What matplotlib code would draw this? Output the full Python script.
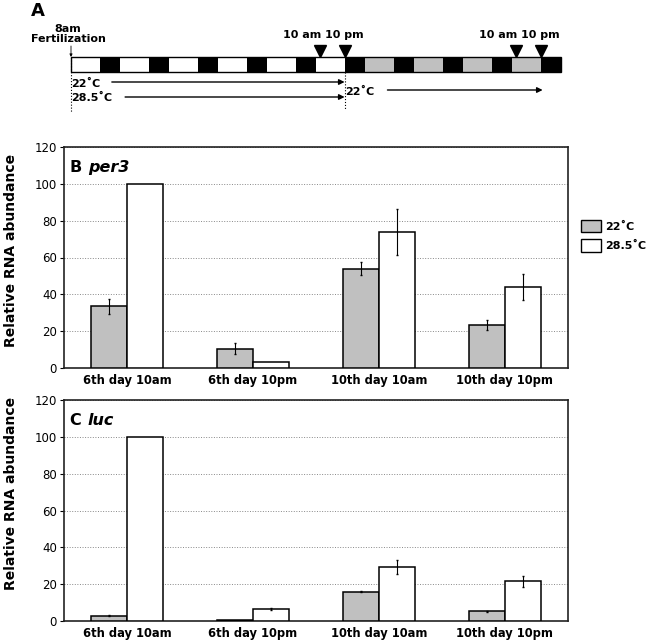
import numpy as np
import matplotlib.pyplot as plt
from matplotlib.patches import Rectangle, Patch

# bar chart data
categories = ['6th day 10am', '6th day 10pm', '10th day 10am', '10th day 10pm']
per3_22 = [33.5, 10.5, 54, 23.3]
per3_22_err = [4, 3, 3.5, 2.5]
per3_28 = [100, 3, 74, 44]
per3_28_err = [0, 0, 12.5, 7]
luc_22 = [2.9, 0.8, 16, 5.3]
luc_22_err = [0.4, 0, 0.4, 0.2]
luc_28 = [100, 6.7, 29.5, 21.5]
luc_28_err = [0, 0.6, 3.8, 3]
series_labels = ['22˚C', '28.5˚C']

# schematic: light/dark cycle starting at 8am fertilization
n_days = 10
light_hours, dark_hours = 14, 10
warm_days = 6                      # days raised at 28.5 before the shift
sample_hours = [122, 134, 218, 230]
sample_labels = ['10 am', '10 pm', '10 am', '10 pm']

gray = '#c0c0c0'
W, H = 646, 641

fig = plt.figure(figsize=(W / 100, H / 100), dpi=100)

# ---- panel A: schematic ----
axA = fig.add_axes([71 / W, 1 - 115 / H, 490 / W, 115 / H])
axA.set_xlim(0, n_days * 24)
axA.set_ylim(115, 0)
axA.axis('off')

for d in range(n_days):
    t0 = d * 24
    fc = 'white' if d < warm_days else gray
    axA.add_patch(Rectangle((t0, 57), light_hours, 15, facecolor=fc,
                            edgecolor='none', clip_on=False))
    axA.add_patch(Rectangle((t0 + light_hours, 57), dark_hours, 15,
                            facecolor='black', edgecolor='none', clip_on=False))
axA.add_patch(Rectangle((0, 57), n_days * 24, 15, facecolor='none',
                        edgecolor='black', lw=1, clip_on=False))

for h, lab in zip(sample_hours, sample_labels):
    axA.plot(h, 51, marker='v', color='black', markersize=9, clip_on=False)
    if 'am' in lab:
        axA.text(h + 0.5, 35, lab, ha='right', va='center',
                 fontsize=8, fontweight='bold')
    else:
        axA.text(h, 35, lab, ha='center', va='center',
                 fontsize=8, fontweight='bold')

axA.text(-1.5, 44, '8am\nFertilization', ha='center', va='bottom',
         fontsize=8, fontweight='bold', linespacing=0.95)
axA.annotate('', xy=(0, 57), xytext=(0, 46),
             arrowprops=dict(arrowstyle='-|>', lw=0.6, color='black',
                             mutation_scale=4, shrinkA=0, shrinkB=0))
axA.plot([0, 0], [57, 112], ls=':', lw=0.8, color='black', clip_on=False)
shift = warm_days * 24 - dark_hours
axA.plot([shift, shift], [72, 110], ls=':', lw=0.8, color='black',
         clip_on=False)

axA.text(0, 84, '22˚C', ha='left', va='center', fontsize=8,
         fontweight='bold')
axA.text(0, 97.5, '28.5˚C', ha='left', va='center', fontsize=8,
         fontweight='bold')
axA.text(shift + 0.5, 92, '22˚C', ha='left', va='center', fontsize=8,
         fontweight='bold')

arrow_kw = dict(arrowstyle='-|>', lw=1, color='black', mutation_scale=8,
                shrinkA=0, shrinkB=0)
axA.annotate('', xy=(shift, 82), xytext=(20, 82), arrowprops=arrow_kw)
axA.annotate('', xy=(shift, 97), xytext=(26.5, 97), arrowprops=arrow_kw)
axA.annotate('', xy=(231, 90), xytext=(155, 90), arrowprops=arrow_kw)

fig.text(31 / W, 1 - 11 / H, 'A', fontsize=13, fontweight='bold',
         ha='left', va='center')

# ---- panels B and C: bar charts ----
x = np.arange(len(categories))
w = 0.286


def draw_err(ax, xs, vals, errs):
    keep = [i for i, e in enumerate(errs) if e > 0]
    ax.errorbar(xs[keep], np.array(vals)[keep], yerr=np.array(errs)[keep],
                fmt='none', ecolor='black', elinewidth=0.8, capsize=1,
                zorder=4)


def bar_panel(ax, v22, e22, v28, e28, letter, gene, label_y):
    ax.bar(x - w / 2, v22, w, color=gray, edgecolor='black', lw=1.1,
           zorder=3)
    ax.bar(x + w / 2, v28, w, color='white', edgecolor='black', lw=1.1,
           zorder=3)
    draw_err(ax, x - w / 2, v22, e22)
    draw_err(ax, x + w / 2, v28, e28)
    ax.set_xlim(-0.5, len(categories) - 0.5)
    ax.set_ylim(0, 120)
    ax.set_yticks(np.arange(0, 121, 20))
    ax.set_xticks(x)
    ax.set_xticklabels(categories, fontsize=8.3, fontweight='bold')
    ax.tick_params(axis='x', length=0, pad=4)
    ax.tick_params(axis='y', length=3, width=0.8, pad=2, labelsize=8.5)
    ax.yaxis.grid(True, linestyle=':', color='#888888', lw=0.7, zorder=0)
    for s in ax.spines.values():
        s.set_color('#222222')
        s.set_linewidth(1.2)
    ax.set_ylabel('Relative RNA abundance', fontsize=10,
                  fontweight='bold')
    ax.yaxis.set_label_coords(-0.092, label_y)
    t1 = ax.text(0.012, 0.94, letter + ' ', transform=ax.transAxes,
                 fontsize=11.5, fontweight='bold', ha='left', va='top')
    ax.annotate(gene, xy=(1, 0), xycoords=t1, fontsize=11.5,
                fontweight='bold', style='italic', ha='left', va='bottom')


axB = fig.add_axes([64 / W, 1 - 368 / H, 504 / W, 221 / H])
bar_panel(axB, per3_22, per3_22_err, per3_28, per3_28_err, 'B', 'per3', 0.53)

axC = fig.add_axes([64 / W, 1 - 621 / H, 504 / W, 221 / H])
bar_panel(axC, luc_22, luc_22_err, luc_28, luc_28_err, 'C', 'luc', 0.575)

handles = [Patch(facecolor=gray, edgecolor='black', lw=1),
           Patch(facecolor='white', edgecolor='black', lw=1)]
fig.legend(handles, series_labels, loc='upper left',
           bbox_to_anchor=(581 / W, 1 - 220 / H), frameon=False,
           handlelength=1.8, handleheight=1.35, handletextpad=0.36,
           labelspacing=0.6, borderaxespad=0, borderpad=0,
           prop=dict(size=8, weight='bold'))

fig.savefig('out.png', dpi=100)
